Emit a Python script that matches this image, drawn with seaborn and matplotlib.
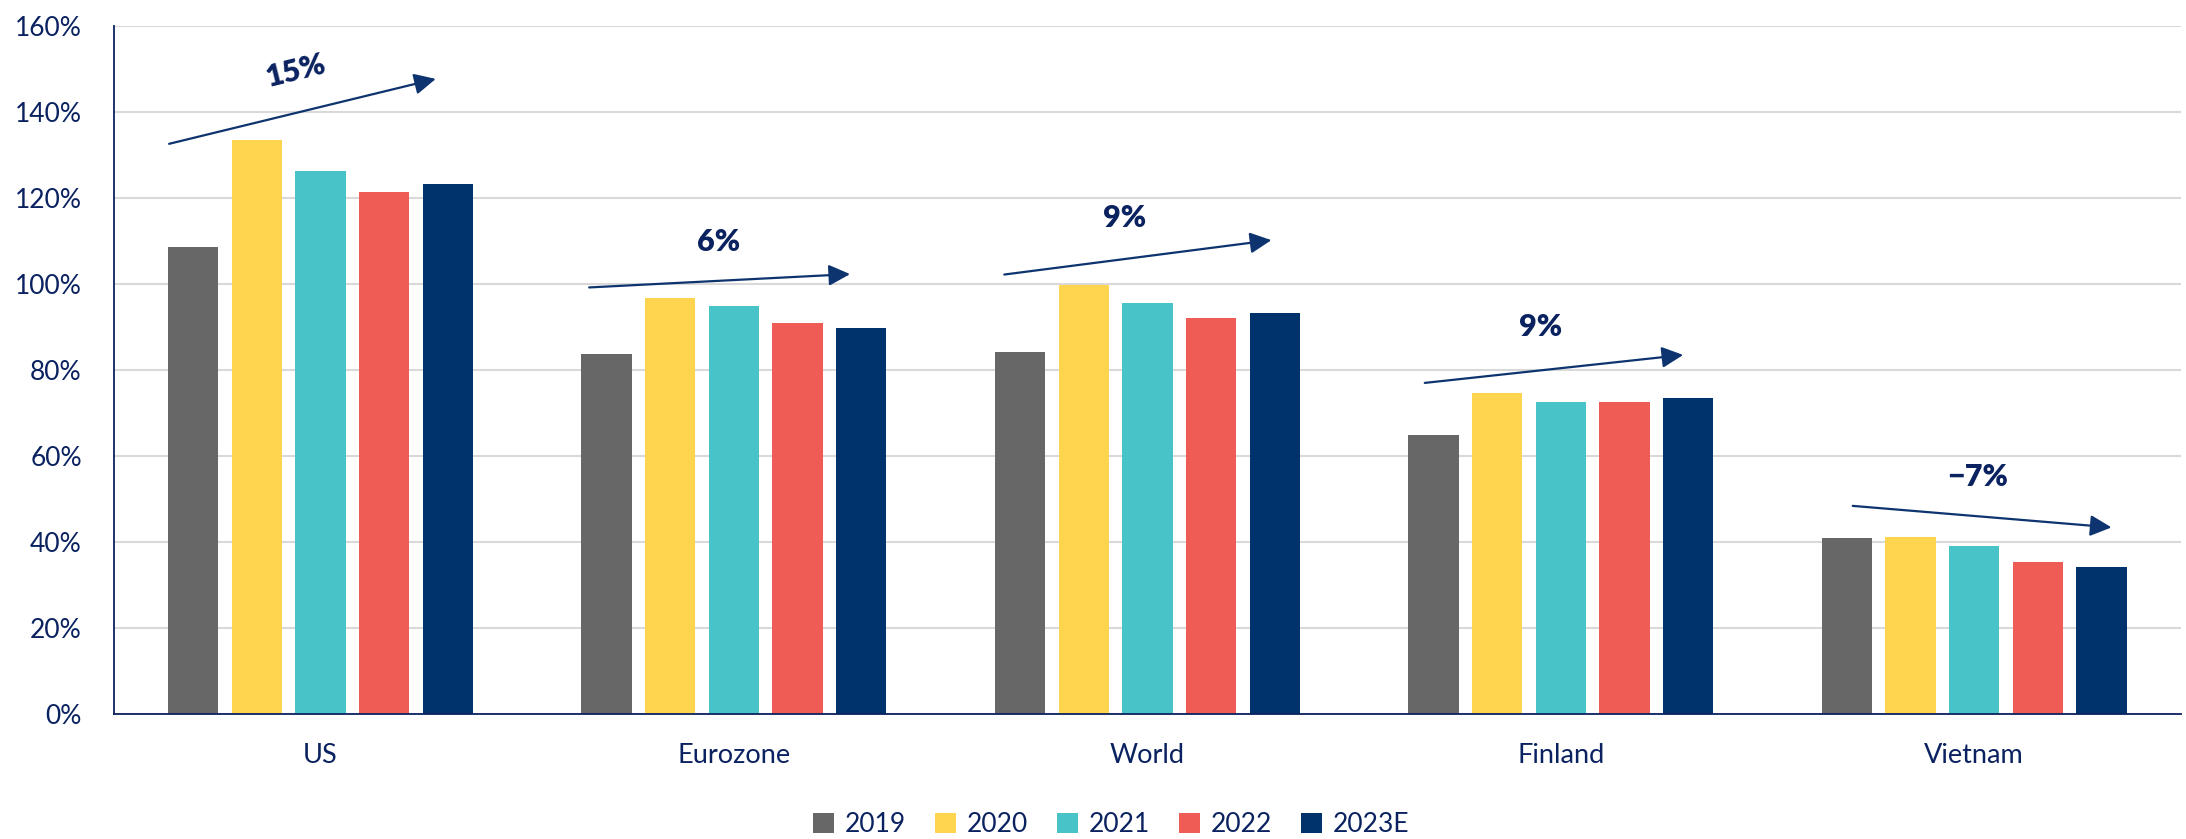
import matplotlib
matplotlib.use('Agg')
import matplotlib.pyplot as plt
import seaborn as sns
import pandas as pd

# Data, debt in % of GDP
regions = ['US', 'Eurozone', 'World', 'Finland', 'Vietnam']
years = ['2019', '2020', '2021', '2022', '2023E']
v2019 = [108.7, 83.7, 84.3, 65.0, 40.9]
v2020 = [133.4, 96.8, 99.7, 74.7, 41.2]
v2021 = [126.3, 94.8, 95.5, 72.6, 39.1]
v2022 = [121.3, 91.0, 92.2, 72.6, 35.3]
v2023 = [123.3, 89.7, 93.3, 73.6, 34.2]
changes = ['15%', '6%', '9%', '9%', '−7%']
palette = ['#676767', '#FFD550', '#48C3C8', '#EF5B55', '#00336B']

navy = '#0B2260'
arrow_col = '#0E3470'

rows = []
for yr, vals in zip(years, [v2019, v2020, v2021, v2022, v2023]):
    for reg, v in zip(regions, vals):
        rows.append({'region': reg, 'year': yr, 'value': v})
df = pd.DataFrame(rows)

sns.set_style('white')
plt.rcParams['font.family'] = ['Lato', 'DejaVu Sans']

fig = plt.figure(figsize=(21.86, 8.39), dpi=100)
ax = fig.add_axes([113.7 / 2186, 1 - 714 / 839, 2067.3 / 2186, 688 / 839])

sns.barplot(data=df, x='region', y='value', hue='year', hue_order=years,
            palette=palette, saturation=1, width=0.77, gap=0.21,
            linewidth=0, ax=ax, errorbar=None)

ax.set_xlim(-0.5, 4.5)
ax.set_ylim(0, 160)
ax.set_yticks(range(0, 161, 20))
ax.set_yticklabels([f'{t}%' for t in range(0, 161, 20)])
ax.set_xlabel('')
ax.set_ylabel('')
ax.yaxis.grid(True, color='#D9D9D9', lw=1.5)
ax.set_axisbelow(True)
for s in ['top', 'right']:
    ax.spines[s].set_visible(False)
for s in ['left', 'bottom']:
    ax.spines[s].set_color(navy)
    ax.spines[s].set_linewidth(1.3)
ax.tick_params(axis='y', length=0, pad=23, labelsize=19, labelcolor=navy)
ax.tick_params(axis='x', length=0, pad=21, labelsize=19.5, labelcolor=navy)

# trend arrows + labels: (start dx, start y, end dx, end y, label dx, label y, rotation)
arrows = [
    (-0.366, 132.6, 0.279, 147.7, -0.059, 149.6, 14),
    (-0.350, 99.2, 0.281, 102.3, -0.036, 109.8, 0),
    (-0.346, 102.2, 0.300, 110.2, -0.056, 115.3, 0),
    (-0.329, 77.0, 0.296, 83.5, -0.048, 89.9, 0),
    (-0.294, 48.4, 0.332, 43.4, 0.009, 55.2, 0),
]
for i, (sx, sy, ex, ey, lx, ly, rot) in enumerate(arrows):
    ax.annotate('', xy=(i + ex, ey), xytext=(i + sx, sy),
                arrowprops=dict(arrowstyle='-|>,head_length=0.65,head_width=0.32',
                                mutation_scale=20, lw=1.6, color=arrow_col,
                                shrinkA=0, shrinkB=0))
    ax.text(i + lx, ly, changes[i], ha='center', va='center', fontsize=22,
            fontweight='heavy', color=navy, rotation=rot)

sns.move_legend(ax, 'center', bbox_to_anchor=(0.4824, -0.161), ncol=5,
                frameon=False, title=None, fontsize=19, labelcolor=navy,
                handlelength=0.8, handleheight=0.8, handletextpad=0.4,
                columnspacing=1.1)

plt.savefig('out.png', dpi=100)
plt.close()
